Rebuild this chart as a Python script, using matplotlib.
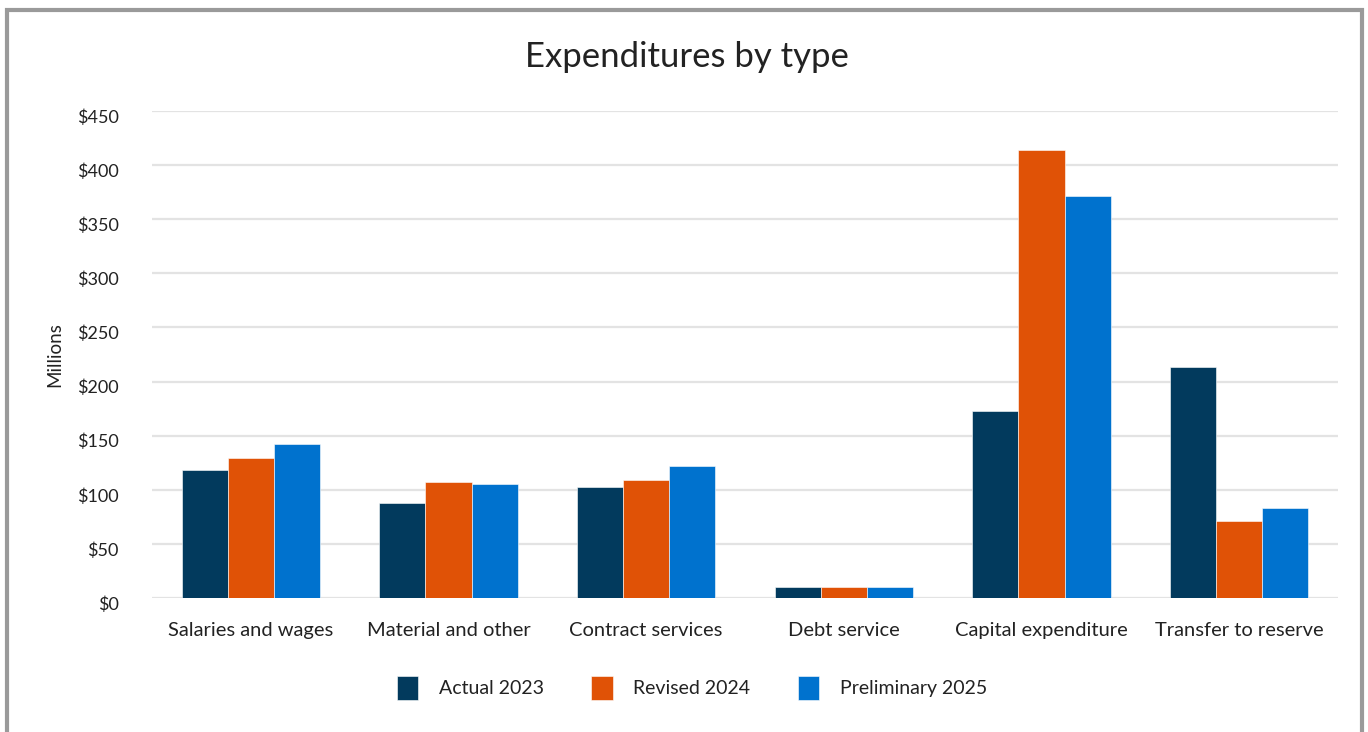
import matplotlib
matplotlib.use("Agg")
import matplotlib.pyplot as plt
import matplotlib.transforms as mtransforms
import numpy as np
from matplotlib.patches import Rectangle

categories = ["Salaries and wages", "Material and other", "Contract services",
              "Debt service", "Capital expenditure", "Transfer to reserve"]
actual_2023 = [118, 88, 103, 10, 173, 213]
revised_2024 = [129, 107, 109, 10, 414, 71]
preliminary_2025 = [142, 105, 122, 10, 371, 83]
series_names = ["Actual 2023", "Revised 2024", "Preliminary 2025"]
colors = ["#023A5D", "#E05206", "#0072CE"]
yticks = [0, 50, 100, 150, 200, 250, 300, 350, 400, 450]

plt.rcParams['font.family'] = ['Lato', 'DejaVu Sans']

W, H = 1368, 732
fig = plt.figure(figsize=(W / 100, H / 100), dpi=100)
fig.patch.set_facecolor("white")

# outer frame
fig.patches.append(Rectangle((7 / W, -0.05), (1362 - 7) / W, 1.05 - 10 / H,
                             transform=fig.transFigure, fill=False,
                             edgecolor="#9a9a9a", linewidth=3, zorder=0))

ax = fig.add_axes([152 / W, 1 - 598 / H, (1338 - 152) / W, (598 - 111) / H])
x = np.arange(len(categories))
bw = 0.233
for i, (vals, name, c) in enumerate(zip([actual_2023, revised_2024, preliminary_2025],
                                        series_names, colors)):
    ax.bar(x + (i - 1) * bw, vals, width=bw, color=c, label=name,
           edgecolor="#ffffff", linewidth=0.4, zorder=3)

ax.set_xlim(-0.5, len(categories) - 0.5)
ax.set_ylim(0, 450)
ax.set_yticks(yticks)
ax.set_yticklabels([f"${v}" for v in yticks], fontsize=13, color="#222222")
ax.set_xticks(x)
ax.set_xticklabels(categories, fontsize=14.5, color="#222222")
ax.tick_params(axis="both", length=0)
ax.tick_params(axis="y", pad=24)
ax.tick_params(axis="x", pad=17)
offset = mtransforms.ScaledTranslation(0, -5 / 100, fig.dpi_scale_trans)
for lbl in ax.get_yticklabels():
    lbl.set_transform(lbl.get_transform() + offset)
ax.grid(axis="y", color="#e3e3e3", linewidth=1.6, zorder=0)
for s in ax.spines.values():
    s.set_visible(False)
ax.set_ylabel("Millions", fontsize=13.5, color="#222222", labelpad=10)

fig.text(687 / W, 1 - 57 / H, "Expenditures by type", ha="center", va="center",
         fontsize=25, color="#222222")

leg = fig.legend(loc="center", bbox_to_anchor=(692 / W, 1 - 688 / H), ncol=3,
                 frameon=False, fontsize=14, handlelength=1.1, handleheight=1.5,
                 columnspacing=2.45, handletextpad=1.05)
for t in leg.get_texts():
    t.set_color("#222222")

fig.savefig("out.png", dpi=100)
